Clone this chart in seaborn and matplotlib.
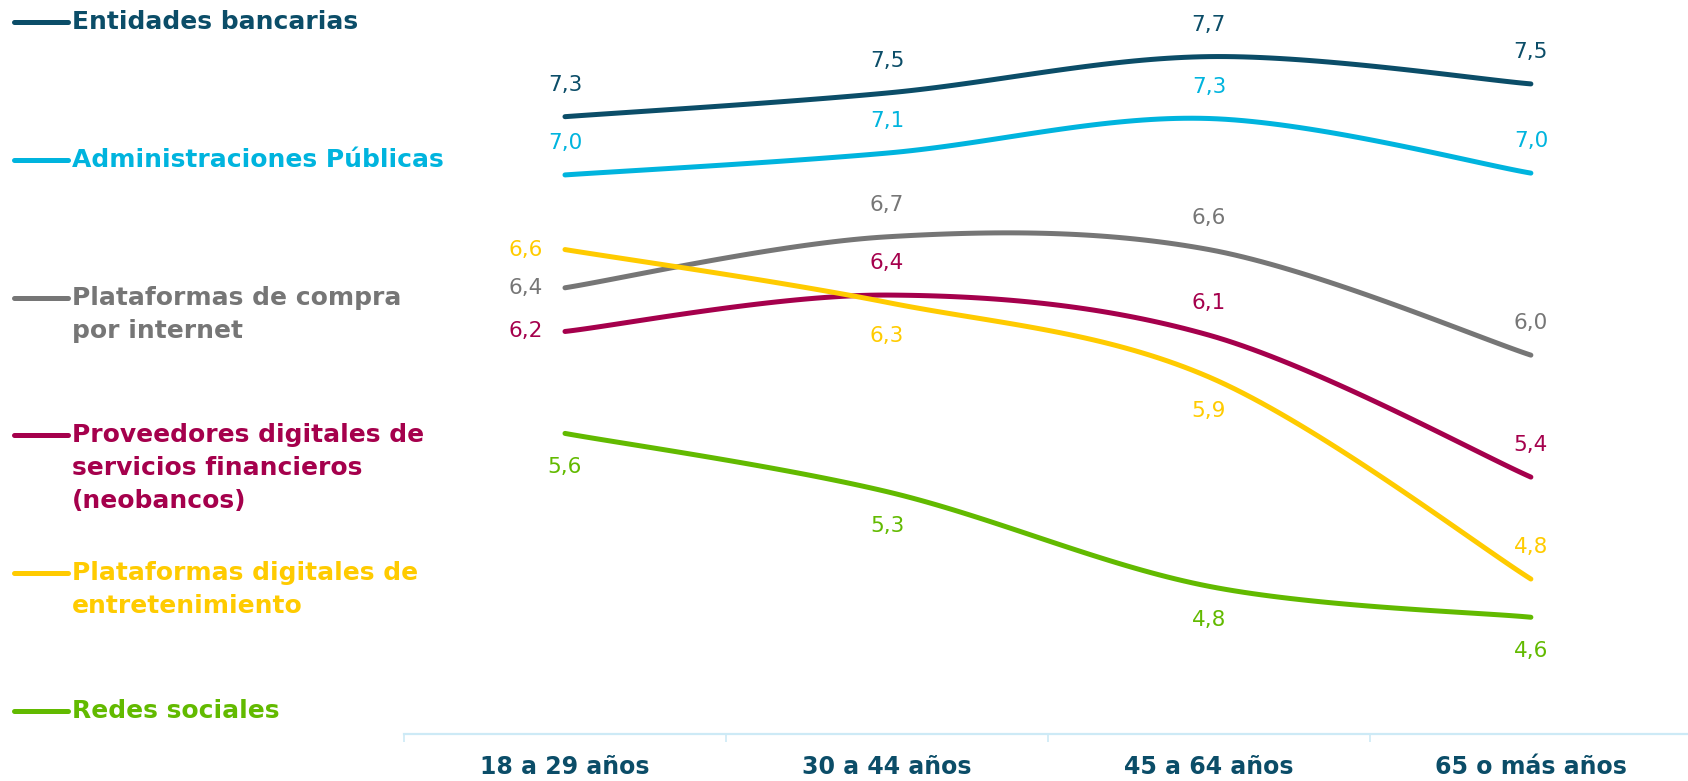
import numpy as np
import pandas as pd
import seaborn as sns
import matplotlib.pyplot as plt
from matplotlib.lines import Line2D

edades = ["18 a 29 años", "30 a 44 años", "45 a 64 años", "65 o más años"]

series = ["Entidades bancarias",
          "Administraciones Públicas",
          "Plataformas de compra\npor internet",
          "Proveedores digitales de\nservicios financieros\n(neobancos)",
          "Plataformas digitales de\nentretenimiento",
          "Redes sociales"]

entidades = [7.34, 7.47, 7.67, 7.52]
administraciones = [7.02, 7.14, 7.33, 7.03]
compra = [6.40, 6.68, 6.61, 6.03]
neobancos = [6.16, 6.36, 6.14, 5.36]
entretenimiento = [6.61, 6.32, 5.91, 4.80]
redes = [5.60, 5.28, 4.76, 4.59]
valores = [entidades, administraciones, compra, neobancos, entretenimiento, redes]

colores = ["#0b4d68", "#00b4de", "#767676", "#a5004c", "#ffcb00", "#62ba00"]
# where each value label sits: a = above, b = below, l = left
donde = ["aaaa", "aaaa", "laaa", "laaa", "lbba", "bbbb"]

azul_eje = "#cdeaf6"
texto_eje = "#0b4d68"


def suavizar(vals, n=40):
    # bezier through the points, like a smoothed line in a spreadsheet
    pts = np.column_stack([np.arange(len(vals), dtype=float), np.array(vals, dtype=float)])
    ext = np.vstack([pts[0], pts, pts[-1]])
    t = np.linspace(0, 1, n)[:, None]
    out = []
    for i in range(len(vals) - 1):
        p0, p1, p2, p3 = ext[i], ext[i + 1], ext[i + 2], ext[i + 3]
        c1 = p1 + (p2 - p0) / 6
        c2 = p2 - (p3 - p1) / 6
        seg = (1 - t) ** 3 * p1 + 3 * (1 - t) ** 2 * t * c1 + 3 * (1 - t) * t ** 2 * c2 + t ** 3 * p2
        out.append(seg if i == 0 else seg[1:])
    return np.vstack(out)


filas = []
for nombre, vals in zip(series, valores):
    curva = suavizar(vals)
    for k, (x, y) in enumerate(curva):
        filas.append({"serie": nombre, "orden": k, "x": x, "y": y})
df = pd.DataFrame(filas)

sns.set_style("white")
plt.rcParams["font.family"] = ["DejaVu Sans"]

fig = plt.figure(figsize=(16.88, 7.81), dpi=100)
ax = fig.add_axes([404 / 1688, 46.7 / 781, 1 - 404 / 1688, 734.3 / 781])

sns.lineplot(data=df, x="x", y="y", hue="serie", hue_order=series, palette=colores,
             sort=False, estimator=None, linewidth=3.6, legend=False, ax=ax,
             solid_capstyle="round")

for vals, col, pos in zip(valores, colores, donde):
    for i, v in enumerate(vals):
        txt = f"{v:.1f}".replace(".", ",")
        if pos[i] == "a":
            off, ha = (0, 23), "center"
        elif pos[i] == "b":
            off, ha = (0, -24.5), "center"
        else:
            off, ha = (-16, 0), "right"
        ax.annotate(txt, (i, v), xytext=off, textcoords="offset points",
                    ha=ha, va="center", color=col, fontsize=15.5, clip_on=False)

ax.set_xlim(-0.5, 3.488)
ax.set_ylim(3.947, 7.981)
ax.set_xticks(range(len(edades)))
ax.set_xticklabels(edades, fontsize=17, fontweight="bold", color=texto_eje)
ax.set_xticks([-0.5, 0.5, 1.5, 2.5], minor=True)
ax.tick_params(axis="x", which="major", length=0, pad=15)
ax.tick_params(axis="x", which="minor", bottom=True, length=6, width=1.2,
               color=azul_eje, direction="out")
ax.set_yticks([])
ax.set_xlabel("")
ax.set_ylabel("")
for lado in ["top", "right", "left"]:
    ax.spines[lado].set_visible(False)
ax.spines["bottom"].set_color(azul_eje)
ax.spines["bottom"].set_linewidth(1.6)

# legend on the left, one block per series
for j, (nombre, col) in enumerate(zip(series, colores)):
    y0 = 22 + j * 137.8
    fig.add_artist(Line2D([14 / 1688, 68 / 1688], [1 - y0 / 781, 1 - y0 / 781],
                          color=col, linewidth=3.6, solid_capstyle="round"))
    for k, linea in enumerate(nombre.split("\n")):
        fig.text(72 / 1688, 1 - (y0 + k * 33) / 781, linea, color=col,
                 fontsize=18, fontweight="bold", ha="left", va="center")

fig.savefig("out.png", dpi=100)
